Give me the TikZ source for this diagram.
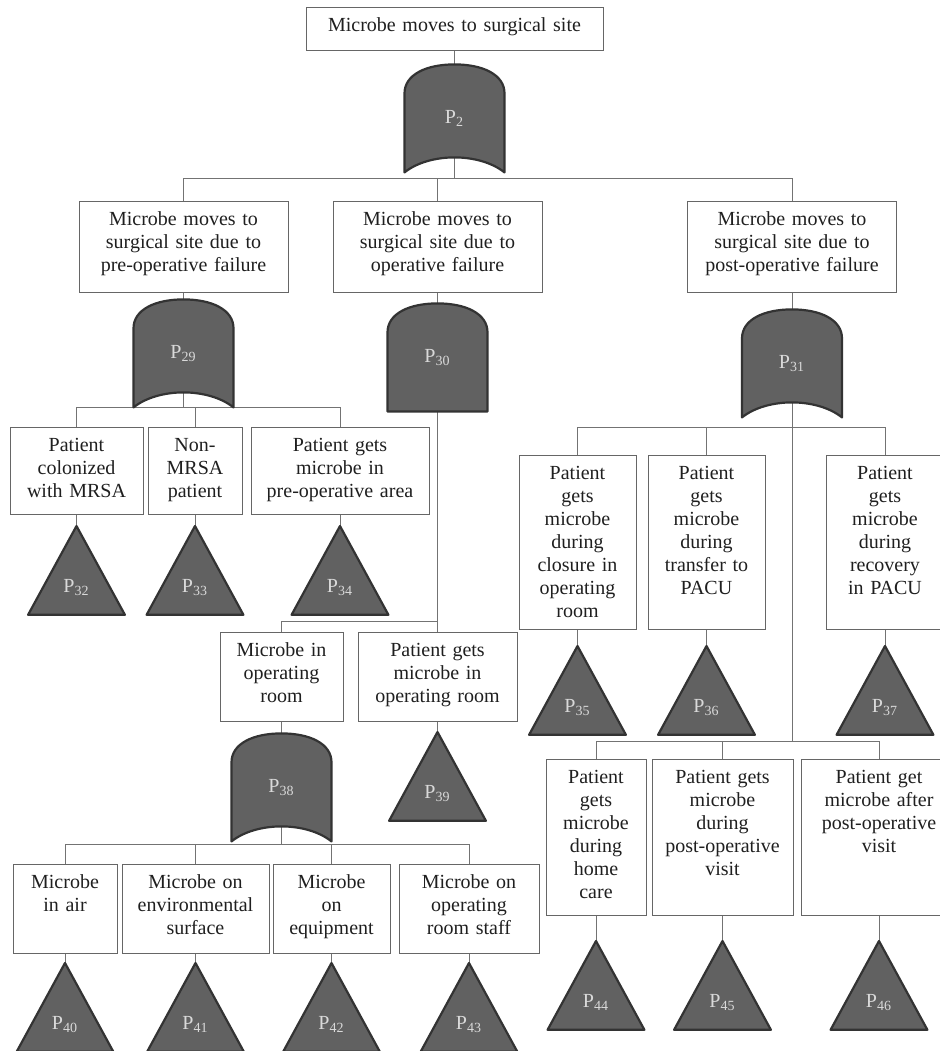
\documentclass[tikz,border=0pt]{standalone}
\usepackage{fontspec}
\setmainfont{Liberation Serif}
\usetikzlibrary{positioning}
\pgfdeclarelayer{bg}
\pgfsetlayers{bg,main}

\begin{document}
\begin{tikzpicture}[x=0.5pt,y=-0.5pt,
  box/.style={draw=black!60,line width=0.5pt,align=center,inner xsep=2pt,inner ysep=4pt,
    text height=8pt,text=black!88,anchor=north,font=\fontsize{10pt}{11.5pt}\selectfont},
  gate/.style={minimum width=50pt,minimum height=54pt,inner sep=0pt,text=white!85!black},
  tri/.style={minimum width=48pt,minimum height=44pt,inner sep=0pt,text height=22pt,
    text depth=0pt,text=white!85!black},
  gatebody/.style={fill=black!62,draw=black!80,line width=1.1pt,line join=round},
  fork/.style={to path={(\tikztostart) |- ([yshift=#1]\tikztotarget.north) -- (\tikztotarget)}}]

  \useasboundingbox (0,0) rectangle (939,1051);

  \node[box,text width=144.5pt,text depth=5.5pt] (top) at (454.5,7) {Microbe moves to surgical site};
  \node[gate,below=6.5pt of top] (g2) {P\textsubscript{2}};

  \node[box,text width=100.5pt,text depth=29.5pt] (pre) at (183.5,201)
    {Microbe moves to\\surgical site due to\\pre-operative failure};
  \node[box,text width=100.5pt,text depth=29.5pt] (oper) at (437.5,201)
    {Microbe moves to\\surgical site due to\\operative failure};
  \node[box,text width=100.5pt,text depth=29.5pt] (post) at (792,201)
    {Microbe moves to\\surgical site due to\\post-operative failure};
  \node[gate,below=3pt of pre] (g29) {P\textsubscript{29}};
  \node[gate,below=5pt of oper] (g30) {P\textsubscript{30}};
  \node[gate,below=8pt of post] (g31) {P\textsubscript{31}};

  \node[box,text width=62.5pt,text depth=27.5pt] (colon) at (76.5,427) {Patient\\colonized\\with MRSA};
  \node[box,text width=43pt,text depth=27.5pt] (nonmrsa) at (195,427) {Non-\\MRSA\\patient};
  \node[box,text width=85pt,text depth=27.5pt] (prearea) at (340,427)
    {Patient gets\\microbe in\\pre-operative area};
  \node[tri,below=5.5pt of colon] (t32) {P\textsubscript{32}};
  \node[tri,below=5.5pt of nonmrsa] (t33) {P\textsubscript{33}};
  \node[tri,below=5.5pt of prearea] (t34) {P\textsubscript{34}};

  \node[box,text width=57.5pt,text depth=28.5pt] (inor) at (281.5,632) {Microbe in\\operating\\room};
  \node[box,text width=75.5pt,text depth=28.5pt] (getsor) at (437.5,632)
    {Patient gets\\microbe in\\operating room};
  \node[gate,below=5.5pt of inor] (g38) {P\textsubscript{38}};
  \node[tri,below=5pt of getsor] (t39) {P\textsubscript{39}};

  \node[box,text width=48pt,text depth=28.5pt] (air) at (65,864) {Microbe\\in air};
  \node[box,text width=69.5pt,text depth=28.5pt] (surf) at (195.5,864)
    {Microbe on\\environmental\\surface};
  \node[box,text width=54.5pt,text depth=28.5pt] (equip) at (331.5,864) {Microbe\\on\\equipment};
  \node[box,text width=66pt,text depth=28.5pt] (staff) at (469,864) {Microbe on\\operating\\room staff};
  \node[tri,below=4.5pt of air] (t40) {P\textsubscript{40}};
  \node[tri,below=4.5pt of surf] (t41) {P\textsubscript{41}};
  \node[tri,below=4.5pt of equip] (t42) {P\textsubscript{42}};
  \node[tri,below=4.5pt of staff] (t43) {P\textsubscript{43}};

  \node[box,text width=54.5pt,text depth=71pt] (closure) at (577.5,455)
    {Patient\\gets\\microbe\\during\\closure in\\operating\\room};
  \node[box,text width=54.5pt,text depth=71pt] (transfer) at (706.5,455)
    {Patient\\gets\\microbe\\during\\transfer to\\PACU};
  \node[box,text width=55pt,text depth=71pt] (recovery) at (885,455)
    {Patient\\gets\\microbe\\during\\recovery\\in PACU};
  \node[tri,below=8pt of closure] (t35) {P\textsubscript{35}};
  \node[tri,below=8pt of transfer] (t36) {P\textsubscript{36}};
  \node[tri,below=8pt of recovery] (t37) {P\textsubscript{37}};

  \node[box,text width=46pt,text depth=62pt] (home) at (596,759)
    {Patient\\gets\\microbe\\during\\home\\care};
  \node[box,text width=66.5pt,text depth=62pt] (visit) at (722.5,759)
    {Patient gets\\microbe\\during\\post-operative\\visit};
  \node[box,text width=74pt,text depth=62pt] (after) at (879,759)
    {Patient get\\microbe after\\post-operative\\visit};
  \node[tri,below=12.5pt of home] (t44) {P\textsubscript{44}};
  \node[tri,below=12.5pt of visit] (t45) {P\textsubscript{45}};
  \node[tri,below=12.5pt of after] (t46) {P\textsubscript{46}};

  \begin{pgfonlayer}{bg}
    \path[every edge/.style={draw=black!55,line width=0.5pt}]
      (top) edge (g2)
      (g2.center) edge[fork=11.5pt] (pre) edge[fork=11.5pt] (oper) edge[fork=11.5pt] (post)
      (pre) edge (g29) (oper) edge (g30) (post) edge (g31)
      (g29.center) edge[fork=10pt] (colon) edge[fork=10pt] (nonmrsa) edge[fork=10pt] (prearea)
      (colon) edge (t32) (nonmrsa) edge (t33) (prearea) edge (t34)
      (g30.center) edge[fork=5.5pt] (inor) edge[fork=5.5pt] (getsor)
      (inor) edge (g38) (getsor) edge (t39)
      (g38.center) edge[fork=10pt] (air) edge[fork=10pt] (surf) edge[fork=10pt] (equip)
        edge[fork=10pt] (staff)
      (air) edge (t40) (surf) edge (t41) (equip) edge (t42) (staff) edge (t43)
      (g31.center) edge[fork=14pt] (closure) edge[fork=14pt] (transfer) edge[fork=14pt] (recovery)
        edge[fork=9pt] (home) edge[fork=9pt] (visit) edge[fork=9pt] (after)
      (closure) edge (t35) (transfer) edge (t36) (recovery) edge (t37)
      (home) edge (t44) (visit) edge (t45) (after) edge (t46);

    \foreach \g in {g2,g29,g31,g38}
      \draw[gatebody,shift={(\g.center)}] (-50,54) -- (-50,-25)
        .. controls (-50,-44) and (-28,-54) .. (0,-54)
        .. controls (28,-54) and (50,-44) .. (50,-25) -- (50,54)
        .. controls (25,34) and (-25,34) .. (-50,54) -- cycle;
    \draw[gatebody,shift={(g30.center)}] (-50,54) -- (-50,-25)
      .. controls (-50,-44) and (-28,-54) .. (0,-54)
      .. controls (28,-54) and (50,-44) .. (50,-25) -- (50,54) -- cycle;
    \foreach \x in {t32,t33,t34,t35,t36,t37,t39,t40,t41,t42,t43,t44,t45,t46}
      \draw[gatebody] (\x.south west) -- (\x.north) -- (\x.south east) -- cycle;
  \end{pgfonlayer}
\end{tikzpicture}
\end{document}
